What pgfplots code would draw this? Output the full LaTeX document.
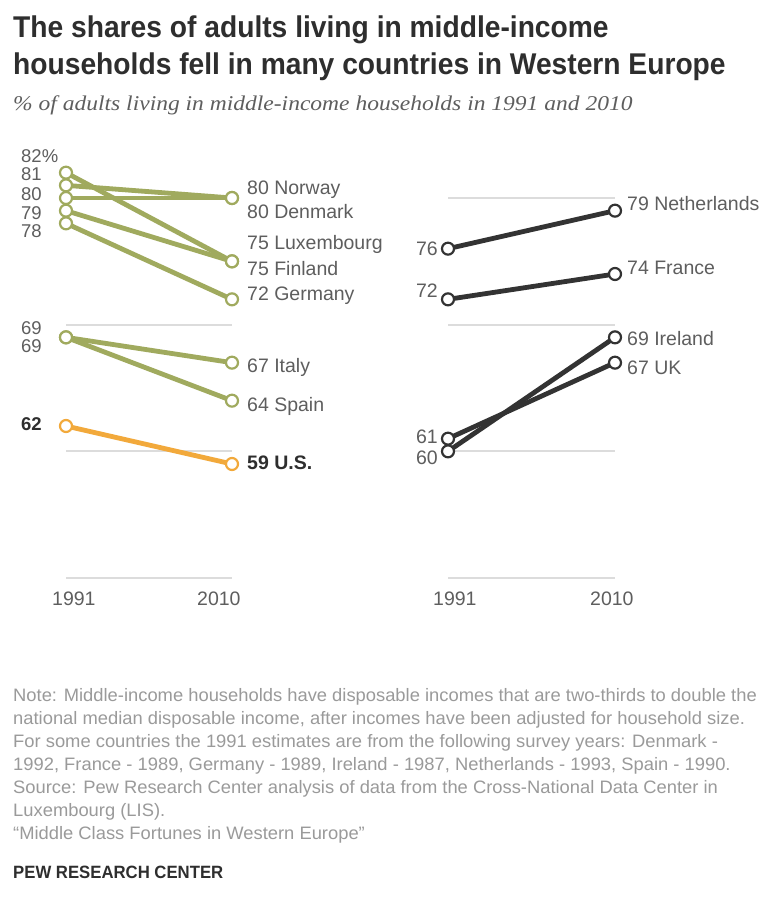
\documentclass[border=0pt]{standalone}
\usepackage{fontspec}
\setmainfont{Liberation Sans}
\newfontfamily\titlefont[FakeStretch=0.94]{Liberation Sans}
\newfontfamily\notefont[FakeStretch=1.02]{Liberation Sans}
\newfontfamily\subfont[FakeStretch=1.12]{Liberation Serif}
\usepackage{pgfplots}
\usepackage{pgfplotstable}
\pgfplotsset{compat=1.18}

\definecolor{wegreen}{HTML}{A0AA5E}
\definecolor{usorange}{HTML}{F2A93B}
\definecolor{darkline}{HTML}{333333}
\definecolor{gridgray}{HTML}{DCDCDC}
\definecolor{labgray}{HTML}{5E5E5E}
\definecolor{notegray}{HTML}{9A9A9A}
\definecolor{titlegray}{HTML}{2E2E2E}

% Share of adults in middle-income households, 1991 and 2010
\pgfplotstableread{
year Luxembourg Norway Denmark Finland Germany Italy Spain US
1991 82 81 80 79 78 69 69 62
2010 75 80 80 75 72 67 64 59
}\fellgroup

\pgfplotstableread{
year Netherlands France Ireland UK
1991 76 72 60 61
2010 79 74 69 67
}\rosegroup

\newcommand{\lab}{\fontsize{19.5}{22}\selectfont}
\newcommand{\stack}{\fontsize{18.5}{20}\selectfont}

\pgfplotsset{
  panel/.style={
    scale only axis, width=166pt, height=380pt,
    xmin=1991, xmax=2010, ymin=50, ymax=80,
    clip=false,
    axis line style={draw=none},
    major tick length=0pt,
    xtick=\empty,
    ytick={50,60,70,80}, yticklabels={},
    ymajorgrids,
    grid style={line width=1.8pt, color=gridgray},
    anchor=south west,
  },
  conn/.style={line width=4.8pt, no markers},
  ring/.style={only marks, mark=*, mark size=6pt,
    mark options={fill=white, line width=2.2pt}},
}

\begin{document}
\begin{tikzpicture}[x=1pt, y=1pt]
\path[use as bounding box, fill=white] (0,0) rectangle (759,-905);

% Title and subtitle
\node[anchor=base west, inner sep=0pt, text=titlegray,
      font=\titlefont\bfseries\fontsize{30}{34}\selectfont] at (13,-37)
  {The shares of adults living in middle-income};
\node[anchor=base west, inner sep=0pt, text=titlegray,
      font=\titlefont\bfseries\fontsize{30}{34}\selectfont] at (13,-74)
  {households fell in many countries in Western Europe};
\node[anchor=base west, inner sep=0pt, text=labgray,
      font=\subfont\itshape\fontsize{21}{24}\selectfont] at (13,-110)
  {\% of adults living in middle-income households in 1991 and 2010};

% Left panel: countries where the share fell
\begin{axis}[panel, at={(66pt,-578pt)}]
  \addplot[conn, wegreen] table[x=year, y=Luxembourg] {\fellgroup};
  \addplot[conn, wegreen] table[x=year, y=Norway] {\fellgroup};
  \addplot[conn, wegreen] table[x=year, y=Denmark] {\fellgroup};
  \addplot[conn, wegreen] table[x=year, y=Finland] {\fellgroup};
  \addplot[conn, wegreen] table[x=year, y=Germany] {\fellgroup};
  \addplot[conn, wegreen] table[x=year, y=Italy] {\fellgroup};
  \addplot[conn, wegreen] table[x=year, y=Spain] {\fellgroup};
  \addplot[conn, usorange] table[x=year, y=US] {\fellgroup};
  \addplot[ring, draw=wegreen] table[x=year, y=Luxembourg] {\fellgroup};
  \addplot[ring, draw=wegreen] table[x=year, y=Norway] {\fellgroup};
  \addplot[ring, draw=wegreen] table[x=year, y=Denmark] {\fellgroup};
  \addplot[ring, draw=wegreen] table[x=year, y=Finland] {\fellgroup};
  \addplot[ring, draw=wegreen] table[x=year, y=Germany] {\fellgroup};
  \addplot[ring, draw=wegreen] table[x=year, y=Italy] {\fellgroup};
  \addplot[ring, draw=wegreen] table[x=year, y=Spain] {\fellgroup};
  \addplot[ring, draw=usorange] table[x=year, y=US] {\fellgroup};
\end{axis}

% Right panel: countries where the share rose
\begin{axis}[panel, at={(448pt,-578pt)}, width=167pt]
  \addplot[conn, darkline] table[x=year, y=Netherlands] {\rosegroup};
  \addplot[conn, darkline] table[x=year, y=France] {\rosegroup};
  \addplot[conn, darkline] table[x=year, y=Ireland] {\rosegroup};
  \addplot[conn, darkline] table[x=year, y=UK] {\rosegroup};
  \addplot[ring, draw=darkline] table[x=year, y=Netherlands] {\rosegroup};
  \addplot[ring, draw=darkline] table[x=year, y=France] {\rosegroup};
  \addplot[ring, draw=darkline] table[x=year, y=Ireland] {\rosegroup};
  \addplot[ring, draw=darkline] table[x=year, y=UK] {\rosegroup};
\end{axis}

% Value labels, left panel, 1991 (stacked)
\begin{scope}[every node/.style={anchor=base west, inner sep=0pt, text=labgray, font=\stack}]
  \node at (21,-162) {82\%};
  \node at (21,-180) {81};
  \node at (21,-200) {80};
  \node at (21,-219) {79};
  \node at (21,-237) {78};
  \node at (21,-334) {69};
  \node at (21,-352) {69};
  \node[text=titlegray, font=\stack\bfseries] at (21,-430) {62};
\end{scope}
\begin{scope}[every node/.style={anchor=base west, inner sep=0pt, text=labgray, font=\lab}]
% Value labels, left panel, 2010
  \node at (247,-194) {80 Norway};
  \node at (247,-218) {80 Denmark};
  \node at (247,-249) {75 Luxembourg};
  \node at (247,-275) {75 Finland};
  \node at (247,-300) {72 Germany};
  \node at (247,-372) {67 Italy};
  \node at (247,-411) {64 Spain};
  \node[text=titlegray, font=\lab\bfseries] at (247,-469) {59 U.S.};
% Value labels, right panel
  \node at (627,-210) {79 Netherlands};
  \node at (627,-274) {74 France};
  \node at (627,-345) {69 Ireland};
  \node at (627,-374) {67 UK};
  \node[anchor=base east] at (438,-255) {76};
  \node[anchor=base east] at (438,-297) {72};
  \node[anchor=base east] at (438,-443) {61};
  \node[anchor=base east] at (438,-464) {60};
% Years
  \node at (52,-605) {1991};
  \node at (197,-605) {2010};
  \node at (433,-605) {1991};
  \node at (590,-605) {2010};
\end{scope}

% Notes
\begin{scope}[every node/.style={anchor=base west, inner sep=0pt, text=notegray,
      font=\notefont\fontsize{18}{20}\selectfont}]
  \node at (13,-701) {Note: Middle-income households have disposable incomes that are two-thirds to double the};
  \node at (13,-724) {national median disposable income, after incomes have been adjusted for household size.};
  \node at (13,-747) {For some countries the 1991 estimates are from the following survey years: Denmark -};
  \node at (13,-770) {1992, France - 1989, Germany - 1989, Ireland - 1987, Netherlands - 1993, Spain - 1990.};
  \node at (13,-793) {Source: Pew Research Center analysis of data from the Cross-National Data Center in};
  \node at (13,-816) {Luxembourg (LIS).};
  \node at (13,-839) {“Middle Class Fortunes in Western Europe”};
\end{scope}
\node[anchor=base west, inner sep=0pt, text=titlegray,
      font=\titlefont\bfseries\fontsize{17.8}{20}\selectfont] at (13,-878) {PEW RESEARCH CENTER};
\end{tikzpicture}
\end{document}
